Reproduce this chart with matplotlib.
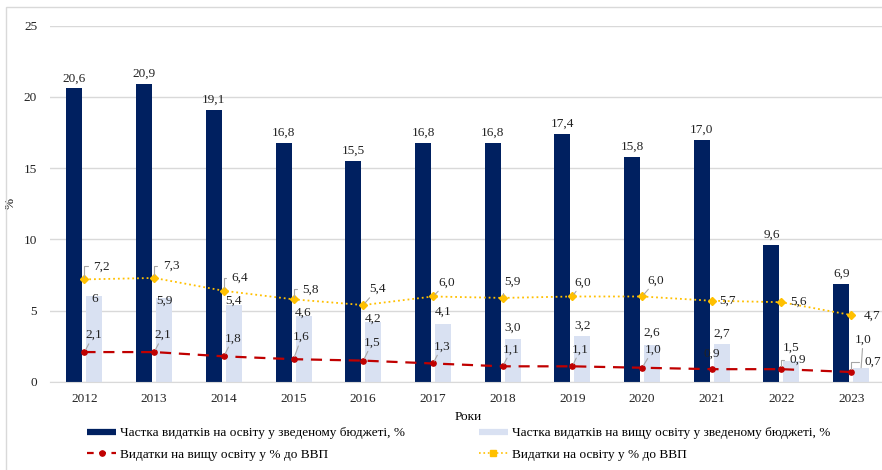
import matplotlib
matplotlib.use("Agg")
import numpy as np
from matplotlib import pyplot as plt
from matplotlib.lines import Line2D
from matplotlib.patches import Rectangle

years = ["2012", "2013", "2014", "2015", "2016", "2017",
         "2018", "2019", "2020", "2021", "2022", "2023"]
edu_share = [20.6, 20.9, 19.1, 16.8, 15.5, 16.8, 16.8, 17.4, 15.8, 17.0, 9.6, 6.9]
higher_share = [6, 5.9, 5.4, 4.6, 4.2, 4.1, 3.0, 3.2, 2.6, 2.7, 1.5, 1.0]
higher_gdp = [2.1, 2.1, 1.8, 1.6, 1.5, 1.3, 1.1, 1.1, 1.0, 0.9, 0.9, 0.7]
edu_gdp = [7.2, 7.3, 6.4, 5.8, 5.4, 6.0, 5.9, 6.0, 6.0, 5.7, 5.6, 4.7]

legend_names = ["Частка видатків на освіту у зведеному бюджеті, %",
                "Видатки на вищу освіту у % до ВВП",
                "Частка видатків на вищу освіту у зведеному бюджеті, %",
                "Видатки на освіту у % до ВВП"]

# label placement (pixels, x right / y up) and leader style
red_off = [(9, 17), (9, 17), (9, 18), (8, 22), (9, 18), (9, 17),
           (9, 17), (8, 17), (11, 18), (0, 15), (16, 9), (22, 10)]
red_lead = ["d"] * 9 + [None, "g", "g"]
yel_off = [(17, 13), (17, 12), (16, 13), (17, 10), (14, 16), (14, 14),
           (10, 16), (10, 14), (14, 16), (16, 0), (17, 0), (21, -1)]
yel_lead = ["g", "g", "g", "g", "d", "d", "g", "d", "d", None, None, None]
light_off = [(0, -3), (0, -3), (0, 4), (0, 4), (0, 3), (0, 12),
             (0, 12), (0, 11), (0, 12), (0, 10), (0, 13), (2, 28)]

NAVY = "#002060"
LIGHT = "#D9E1F2"
RED = "#C00000"
YELLOW = "#FFC000"
GRID = "#D9D9D9"

plt.rcParams["font.family"] = ["Liberation Serif", "DejaVu Serif"]
plt.rcParams["font.size"] = 9.5


def fmt(v):
    if isinstance(v, int):
        return str(v)
    return f"{v:.1f}".replace(".", ",")


fig = plt.figure(figsize=(8.82, 4.70), dpi=100)
W, H = 882, 470
fig.add_artist(Rectangle((6 / W, -0.1), 2, 1 - 7 / H + 0.1, transform=fig.transFigure,
                         fill=False, ec=GRID, lw=1))

ax = fig.add_axes([49.6 / W, 1 - 382 / H, 836.4 / W, 356.3 / H])
x = np.arange(len(years))
bw = 0.23
off = 0.143

ax.bar(x - off, edu_share, bw, color=NAVY, zorder=2)
ax.bar(x + off, higher_share, bw, color=LIGHT, zorder=2)
ax.plot(x, higher_gdp, color=RED, lw=1.6, dashes=(5, 3.5), marker="o", ms=3.8, zorder=4)
ax.plot(x, edu_gdp, color=YELLOW, lw=1.3, ls=":", marker="D", ms=4, zorder=4)

ax.set_xlim(-0.5, len(years) - 0.5)
ax.set_ylim(0, 25)
ax.set_yticks(range(0, 26, 5))
ax.set_xticks(x, years)
ax.grid(axis="y", color=GRID, lw=1, zorder=0)
ax.set_axisbelow(True)
for s in ["top", "right", "left"]:
    ax.spines[s].set_visible(False)
ax.spines["bottom"].set_color(GRID)
ax.tick_params(length=0, labelsize=9.5, colors="#222222")
ax.tick_params(axis="y", pad=9)
ax.tick_params(axis="x", pad=8)
ax.set_ylabel("%", fontsize=9.5)
ax.yaxis.set_label_coords(-0.039, 0.5)
ax.set_xlabel("Роки", fontsize=9.5, labelpad=4)

txt = dict(fontsize=9.5, color="#222222")

for i, v in enumerate(edu_share):
    ax.annotate(fmt(v), (x[i] - off, v), xytext=(0, 4), textcoords="offset pixels",
                ha="center", va="bottom", zorder=5, **txt)

for i, v in enumerate(higher_share):
    dx, dy = light_off[i]
    ap = None
    if dy > 20:
        ap = dict(arrowstyle="-", color="#A6A6A6", lw=0.8, shrinkA=0, shrinkB=0)
    ax.annotate(fmt(v), (x[i] + off, v), xytext=(dx, dy), textcoords="offset pixels",
                ha="center", va="center", zorder=5, arrowprops=ap, **txt)


def leader(kind):
    if kind == "d":
        return dict(arrowstyle="-", color="#A6A6A6", lw=0.8, shrinkA=0, shrinkB=2)
    if kind == "g":
        return dict(arrowstyle="-", color="#A6A6A6", lw=0.8, shrinkA=2, shrinkB=2,
                    relpos=(0, 0.5), connectionstyle="angle,angleA=180,angleB=90,rad=0")
    return None


for i, v in enumerate(higher_gdp):
    dx, dy = red_off[i]
    ax.annotate(fmt(v), (x[i], v), xytext=(dx, dy), textcoords="offset pixels",
                ha="center", va="center", zorder=6, arrowprops=leader(red_lead[i]), **txt)

for i, v in enumerate(edu_gdp):
    dx, dy = yel_off[i]
    ax.annotate(fmt(v), (x[i], v), xytext=(dx, dy), textcoords="offset pixels",
                ha="center", va="center", zorder=6, arrowprops=leader(yel_lead[i]), **txt)

handles = [
    Line2D([], [], color=NAVY, lw=4.5, solid_capstyle="butt"),
    Line2D([], [], color=RED, lw=1.6, dashes=(3, 2.5), marker="o", ms=3.8),
    Line2D([], [], color=LIGHT, lw=4.5, solid_capstyle="butt"),
    Line2D([], [], color=YELLOW, lw=1.2, ls=":", marker="s", ms=4),
]
fig.legend(handles, legend_names, loc="upper left", bbox_to_anchor=(87 / W, 1 - 427 / H),
           ncol=2, frameon=False, borderpad=0, borderaxespad=0, handlelength=2.2,
           handletextpad=0.3, columnspacing=5.6, labelspacing=0.7, numpoints=1,
           fontsize=9.5)

fig.savefig("out.png", dpi=100)
